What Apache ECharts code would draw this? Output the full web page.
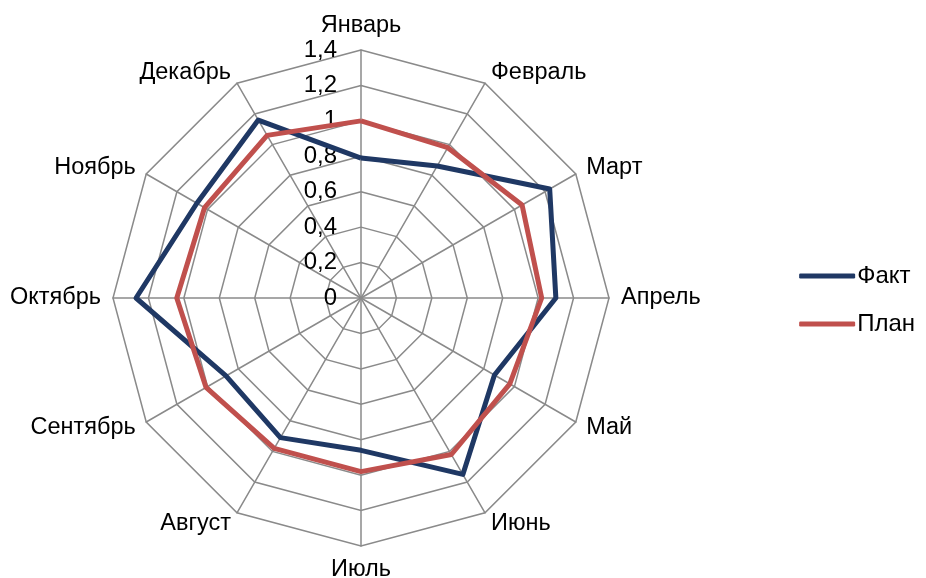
<!DOCTYPE html>
<html lang="ru">
<head>
    <meta charset="UTF-8">
    <title>Факт / План</title>
    <script src="https://cdn.jsdelivr.net/npm/echarts@6/dist/echarts.min.js"></script>
    <style>
        html, body { margin: 0; padding: 0; background: #fff; }
        #chart { width: 926px; height: 578px; }
    </style>
</head>
<body>
    <div id="chart"></div>
    <script>
        // данные
        const months = ['Январь', 'Февраль', 'Март', 'Апрель', 'Май', 'Июнь',
                        'Июль', 'Август', 'Сентябрь', 'Октябрь', 'Ноябрь', 'Декабрь'];
        const fact = [0.79, 0.86, 1.23, 1.10, 0.87, 1.15, 0.86, 0.91, 0.88, 1.27, 1.07, 1.16];
        const plan = [1.00, 0.98, 1.05, 1.02, 0.97, 1.02, 0.98, 0.98, 1.01, 1.04, 1.02, 1.06];
        const seriesNames = ['Факт', 'План'];
        const axisMax = 1.4;

        const font = 'Arial, "Liberation Sans", sans-serif';
        const grey = '#8a8a8a';
        const center = [361, 298];
        const radius = 248;

        // радар ECharts идёт против часовой стрелки — переставляем, чтобы месяцы шли по часовой
        const order = months.map((m, i) => (months.length - i) % months.length);
        const byOrder = arr => order.map(i => arr[i]);

        const myChart = echarts.init(document.getElementById('chart'));

        const option = {
            animation: false,
            textStyle: { fontFamily: font },
            legend: {
                orient: 'vertical',
                right: 6,
                top: 259,
                itemWidth: 56,
                itemHeight: 5,
                itemGap: 24,
                icon: 'roundRect',
                textStyle: { fontSize: 24, color: '#000', fontFamily: font, padding: [0, 0, 0, -3] },
                data: seriesNames
            },
            radar: {
                center: center,
                radius: radius,
                startAngle: 90,
                shape: 'polygon',
                splitNumber: 7,
                nameGap: 12,
                axisName: { color: '#000', fontSize: 23.5, fontFamily: font },
                axisLine: { lineStyle: { color: grey, width: 1.5 } },
                splitLine: { lineStyle: { color: grey, width: 1.5 } },
                splitArea: { show: false },
                indicator: byOrder(months).map(m => ({ name: m, min: 0, max: axisMax }))
            },
            // подписи шкалы только вдоль оси «Январь»
            polar: { center: center, radius: radius },
            angleAxis: {
                startAngle: 90,
                show: false
            },
            radiusAxis: {
                min: 0,
                max: axisMax,
                interval: 0.2,
                axisLine: { show: false },
                axisTick: { show: false },
                splitLine: { show: false },
                axisLabel: {
                    color: '#000',
                    fontSize: 24,
                    fontFamily: font,
                    margin: 24,
                    formatter: v => String(Math.round(v * 10) / 10).replace('.', ',')
                }
            },
            series: [{
                type: 'radar',
                symbol: 'none',
                data: [
                    { name: seriesNames[0], value: byOrder(fact),
                      lineStyle: { color: '#1F3864', width: 5 },
                      itemStyle: { color: '#1F3864' } },
                    { name: seriesNames[1], value: byOrder(plan),
                      lineStyle: { color: '#C0504D', width: 5 },
                      itemStyle: { color: '#C0504D' } }
                ]
            }]
        };

        myChart.setOption(option);
    </script>
</body>
</html>
